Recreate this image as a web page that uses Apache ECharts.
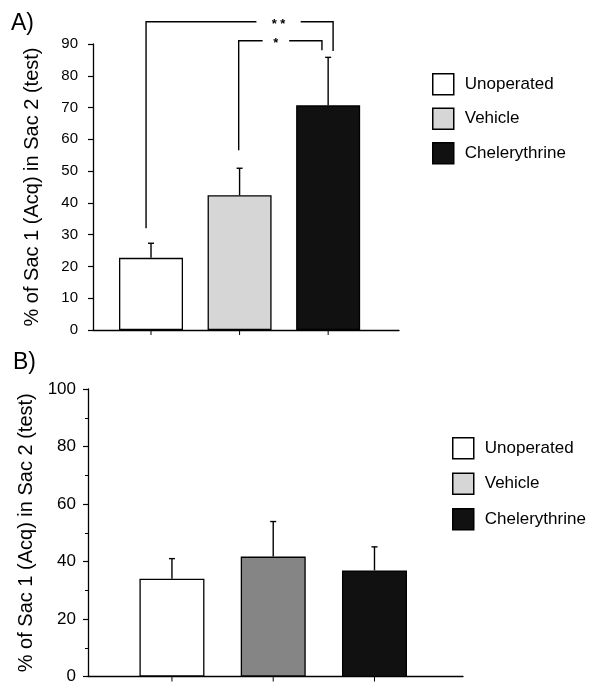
<!DOCTYPE html>
<html><head><meta charset="utf-8">
<script src="https://cdn.jsdelivr.net/npm/echarts@6/dist/echarts.min.js"></script>
<style>html,body{margin:0;padding:0;background:#fff}#c{width:589px;height:685px}</style>
</head><body><div id="c"></div>
<script>
const categories = ['Unoperated', 'Vehicle', 'Chelerythrine'];
const positions = [1, 2, 3];
const meanA = [22.7, 42.4, 70.7];
const errTopA = [27.3, 50.9, 85.8];
const meanB = [34.0, 41.7, 36.9];
const errTopB = [41.0, 53.9, 45.1];
const yTicksA = [0, 10, 20, 30, 40, 50, 60, 70, 80, 90];
const yTicksB = [0, 20, 40, 60, 80, 100];
// significance brackets (panel A): left x, right x, top y, left leg bottom, right leg bottom, gap start, gap end, label
const bracketX1 = [0.944, 1.99];
const bracketX2 = [3.056, 2.93];
const bracketTop = [97, 91];
const bracketLeftBottom = [32, 56.6];
const bracketRightBottom = [87.8, 88];
const bracketGapStart = [2.19, 2.26];
const bracketGapEnd = [2.69, 2.56];
const bracketLabels = ['* *', '*'];

const colorsA = ['#ffffff', '#d6d6d6', '#111111'];
const colorsB = ['#ffffff', '#858585', '#111111'];
const FONT = 'Liberation Sans, Arial, Helvetica, sans-serif';

const chart = echarts.init(document.getElementById('c'), null, {renderer: 'canvas'});

function barSeries(idx, means, colors, gi) {
  return categories.map((name, i) => ({
    name: name, type: 'bar', xAxisIndex: gi, yAxisIndex: gi,
    barWidth: gi === 0 ? 64 : 65, barGap: '-100%',
    data: [[positions[i], means[i]]],
    itemStyle: {color: colors[i], borderColor: '#000', borderWidth: 1.3},
    emphasis: {disabled: true}, silent: true, z: 2
  }));
}

function errSeries(means, tops, gi) {
  return {
    type: 'custom', xAxisIndex: gi, yAxisIndex: gi, clip: false, silent: true, z: 3,
    data: positions.map((p, i) => [p, means[i], tops[i]]),
    renderItem: function (params, api) {
      const x = api.value(0);
      const p0 = api.coord([x, api.value(1)]);
      const p1 = api.coord([x, api.value(2)]);
      const pz = api.coord([x, 0]);
      const st = {stroke: '#000', lineWidth: 1.4};
      return {type: 'group', children: [
        {type: 'line', shape: {x1: p0[0], y1: p0[1], x2: p1[0], y2: p1[1]}, style: st},
        {type: 'line', shape: {x1: p1[0] - 3, y1: p1[1], x2: p1[0] + 3, y2: p1[1]}, style: st},
        {type: 'line', shape: {x1: pz[0], y1: pz[1], x2: pz[0], y2: pz[1] + 5}, style: {stroke: '#000', lineWidth: 1}}
      ]};
    }
  };
}

const bracketSeries = {
  type: 'custom', xAxisIndex: 0, yAxisIndex: 0, clip: false, silent: true, z: 4,
  data: bracketX1.map((x, i) => [x, bracketX2[i], bracketTop[i], bracketLeftBottom[i], bracketRightBottom[i], bracketGapStart[i], bracketGapEnd[i], i]),
  renderItem: function (params, api) {
    const x1 = api.value(0), x2 = api.value(1), yt = api.value(2);
    const a = api.coord([x1, api.value(3)]);
    const b = api.coord([x1, yt]);
    const g1 = api.coord([api.value(5), yt]);
    const g2 = api.coord([api.value(6), yt]);
    const c = api.coord([x2, yt]);
    const d = api.coord([x2, api.value(4)]);
    const st = {stroke: '#000', lineWidth: 1.4, fill: null};
    return {type: 'group', children: [
      {type: 'polyline', shape: {points: [a, b, g1]}, style: st},
      {type: 'polyline', shape: {points: [g2, c, d]}, style: st},
      {type: 'text', style: {text: bracketLabels[api.value(7)], x: (g1[0] + g2[0]) / 2, y: b[1] + 3,
        textAlign: 'center', textVerticalAlign: 'middle', font: 'bold 13px ' + FONT, fill: '#000'}}
    ]};
  }
};

const yName = '% of Sac 1 (Acq) in Sac 2 (test)';

const option = {
  animation: false,
  backgroundColor: '#fff',
  textStyle: {fontFamily: FONT},
  title: [
    {text: 'A)', left: 6, top: 7, textStyle: {fontSize: 23, fontWeight: 'normal', color: '#000', fontFamily: FONT}},
    {text: 'B)', left: 8, top: 346, textStyle: {fontSize: 23, fontWeight: 'normal', color: '#000', fontFamily: FONT}}
  ],
  legend: [
    {orient: 'vertical', left: 427, top: 68, itemWidth: 21, itemHeight: 21, itemGap: 12, icon: 'rect',
     data: categories.map((n, i) => ({name: n, itemStyle: {color: colorsA[i], borderColor: '#000', borderWidth: 1.5}})),
     textStyle: {fontSize: 17, color: '#000', fontFamily: FONT, padding: [0, 0, 0, 6]}, selectedMode: false},
    {orient: 'vertical', left: 447, top: 432, itemWidth: 21, itemHeight: 21, itemGap: 13, icon: 'rect',
     data: categories.map((n, i) => ({name: n, itemStyle: {color: colorsA[i], borderColor: '#000', borderWidth: 1.5}})),
     textStyle: {fontSize: 17, color: '#000', fontFamily: FONT, padding: [0, 0, 0, 6]}, selectedMode: false}
  ],
  grid: [
    {left: 93, right: 190, top: 44, bottom: 355, containLabel: false},
    {left: 88, right: 126, top: 389, bottom: 8, containLabel: false}
  ],
  xAxis: [
    {type: 'value', gridIndex: 0, min: 0.345, max: 3.8, axisLine: {show: true, onZero: false, lineStyle: {color: '#000', width: 1.3}},
     axisTick: {show: false}, axisLabel: {show: false}, splitLine: {show: false}},
    {type: 'value', gridIndex: 1, min: 0.171, max: 3.874, axisLine: {show: true, onZero: false, lineStyle: {color: '#000', width: 1.3}},
     axisTick: {show: false}, axisLabel: {show: false}, splitLine: {show: false}}
  ],
  yAxis: [
    {type: 'value', gridIndex: 0, min: yTicksA[0], max: yTicksA[yTicksA.length - 1], interval: yTicksA[1] - yTicksA[0],
     name: yName, nameLocation: 'middle', nameGap: 51, nameRotate: 90,
     nameTextStyle: {fontSize: 20, color: '#000', fontFamily: FONT},
     axisLine: {show: true, lineStyle: {color: '#000', width: 1.3}},
     axisTick: {show: true, length: 5, lineStyle: {color: '#000', width: 1.2}},
     axisLabel: {fontSize: 15, color: '#000', margin: 15, fontFamily: FONT}, splitLine: {show: false}},
    {type: 'value', gridIndex: 1, min: yTicksB[0], max: yTicksB[yTicksB.length - 1], interval: yTicksB[1] - yTicksB[0],
     name: yName, nameLocation: 'middle', nameGap: 46, nameRotate: 90,
     nameTextStyle: {fontSize: 20, color: '#000', fontFamily: FONT},
     axisLine: {show: true, lineStyle: {color: '#000', width: 1.3}},
     axisTick: {show: true, length: 5, lineStyle: {color: '#000', width: 1.2}},
     minorTick: {show: true, splitNumber: 2, length: 3, lineStyle: {color: '#000', width: 1}},
     axisLabel: {fontSize: 17, color: '#000', margin: 12, fontFamily: FONT}, splitLine: {show: false}}
  ],
  series: [].concat(
    barSeries(0, meanA, colorsA, 0),
    barSeries(1, meanB, colorsB, 1),
    [errSeries(meanA, errTopA, 0), errSeries(meanB, errTopB, 1), bracketSeries]
  )
};
chart.setOption(option);
</script></body></html>
